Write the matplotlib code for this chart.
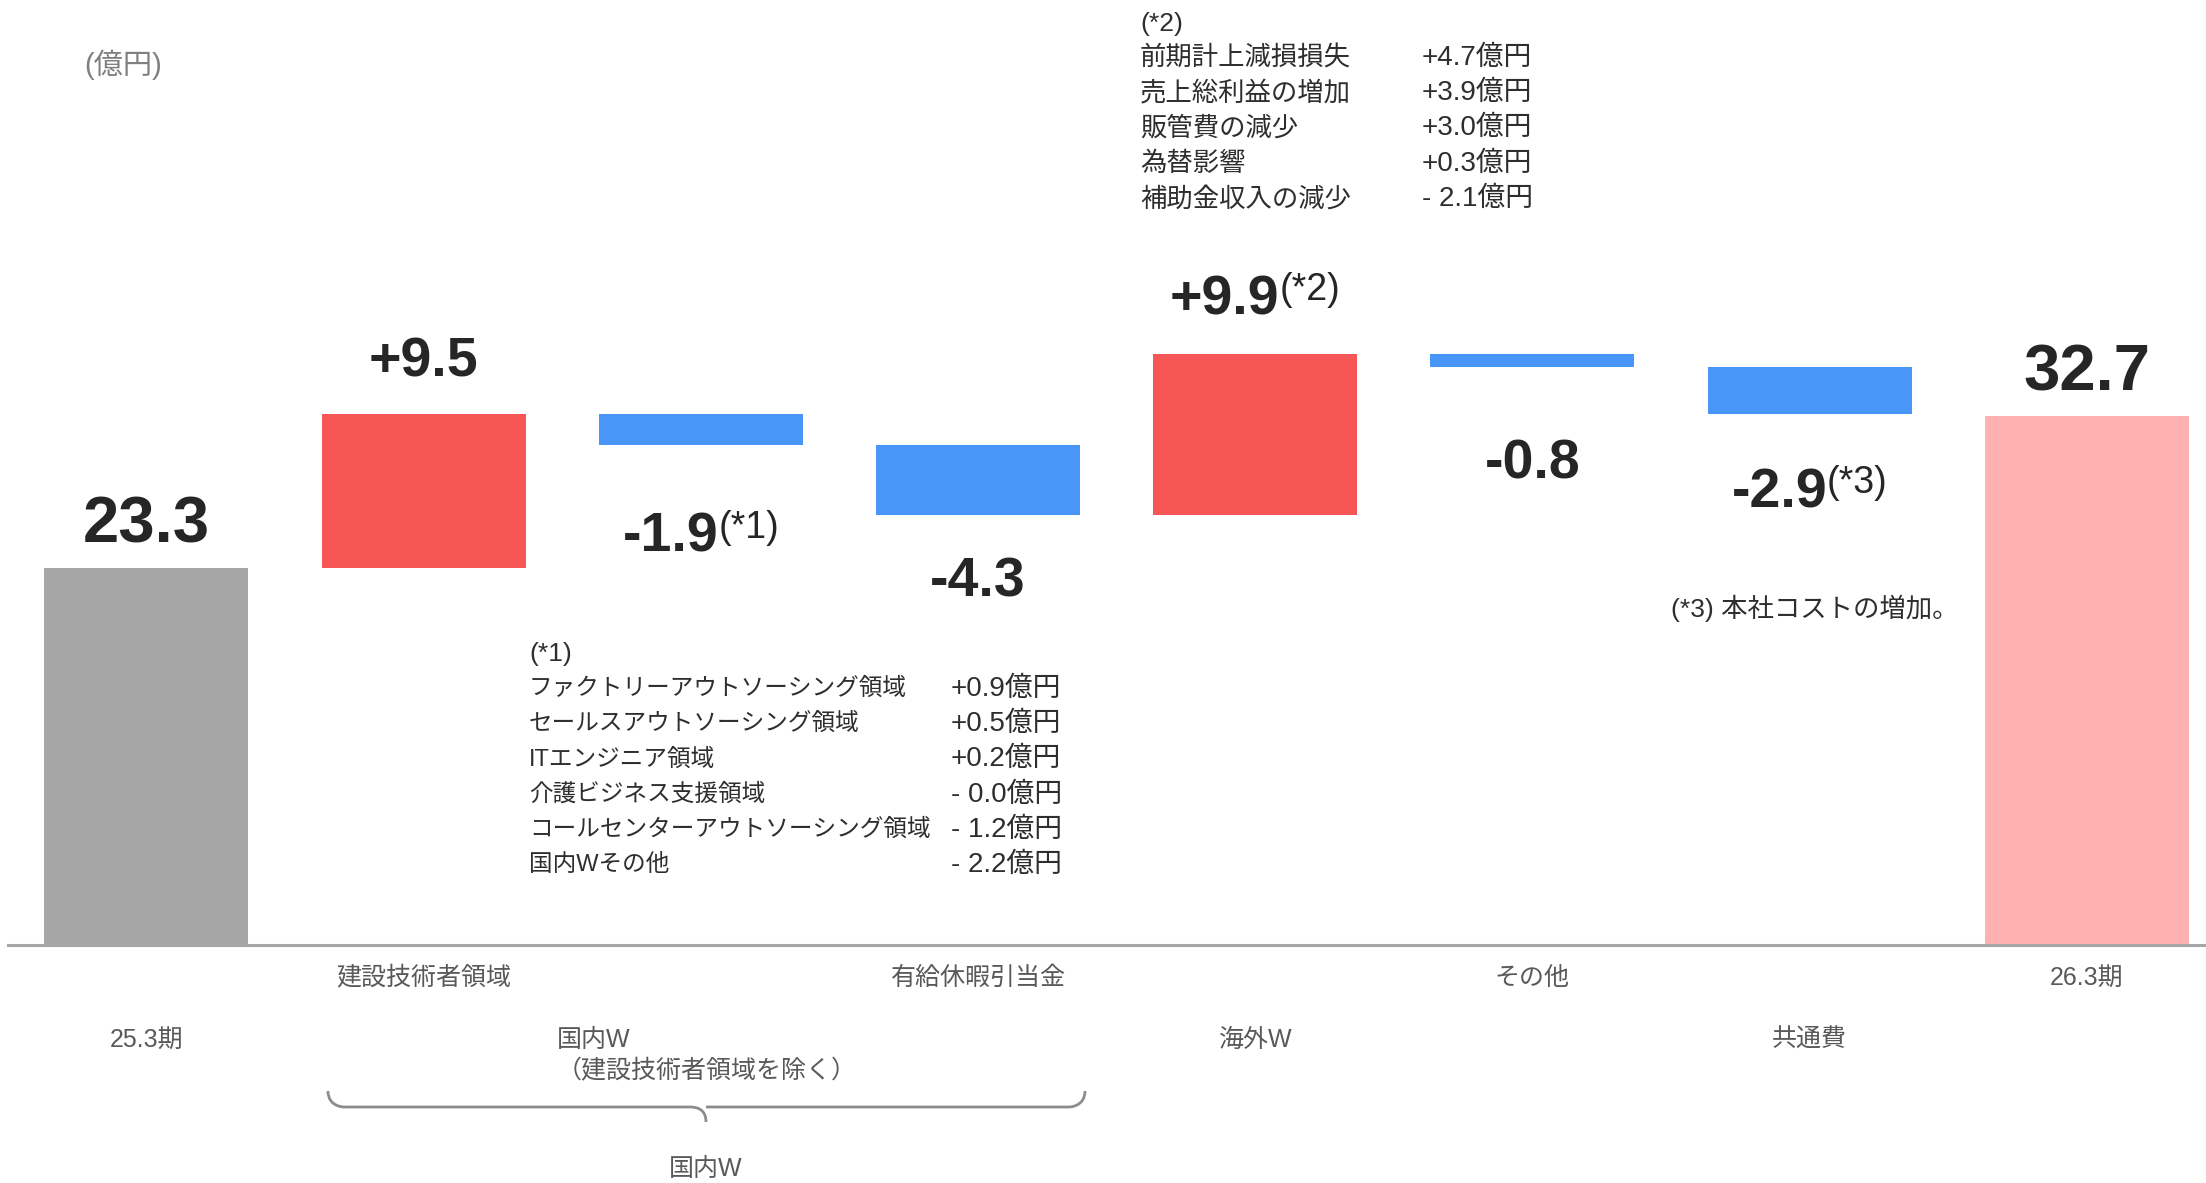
import numpy as np
import matplotlib
matplotlib.use('Agg')
import matplotlib.pyplot as plt
from matplotlib.path import Path
from matplotlib.patches import PathPatch

plt.rcParams['font.family'] = ['Liberation Sans', 'Noto Sans CJK JP']
NARROW = ['Liberation Sans Narrow', 'Liberation Sans']

# 営業利益の増減（億円）
start_label = '25.3期'
end_label = '26.3期'
start_value = 23.3
end_value = 32.7
step_labels = ['建設技術者領域', '国内W\n（建設技術者領域を除く）', '有給休暇引当金',
               '海外W', 'その他', '共通費']
step_values = [9.5, -1.9, -4.3, 9.9, -0.8, -2.9]
step_notes = ['', '(*1)', '', '(*2)', '', '(*3)']

note1_items = ['ファクトリーアウトソーシング領域', 'セールスアウトソーシング領域', 'ITエンジニア領域',
               '介護ビジネス支援領域', 'コールセンターアウトソーシング領域', '国内Wその他']
note1_values = [0.9, 0.5, 0.2, -0.0, -1.2, -2.2]
note2_items = ['前期計上減損損失', '売上総利益の増加', '販管費の減少', '為替影響', '補助金収入の減少']
note2_values = [4.7, 3.9, 3.0, 0.3, -2.1]
note3_text = '(*3) 本社コストの増加。'
group_label = '国内W'
unit_label = '(億円)'

W, H = 2206, 1183
GRAY, RED, BLUE, PINK = '#A6A6A6', '#F75656', '#4896F8', '#FFB1B1'
DARK = '#262626'
LABEL = '#595959'
NOTE = '#2E2E2E'

fig = plt.figure(figsize=(W / 100, H / 100), dpi=100)
ax = fig.add_axes([0, 0, 1, 1])
ax.axis('off')
ax.set_xlim(-0.528, 7.43)
ax.set_ylim(-14.71, 58.4)


def fxy(px, py):
    # pixel position (from top-left) -> figure fraction
    return px / W, 1 - py / H


# waterfall geometry
n = len(step_values) + 2
x = np.arange(n)
levels = start_value + np.concatenate([[0], np.cumsum(step_values)])
bottoms = [0] + list(np.minimum(levels[:-1], levels[1:])) + [0]
heights = [start_value] + [abs(v) for v in step_values] + [end_value]
colors = [GRAY] + [RED if v > 0 else BLUE for v in step_values] + [PINK]
ax.bar(x, heights, bottom=bottoms, width=0.736, color=colors, zorder=2)
ax.axhline(0, xmin=8 / W, color='#A6A6A6', lw=2.2, zorder=3)

# value labels (baseline offset from the bar edge, in pixels)
texts = [f'{start_value:.1f}'] + [f'{v:+.1f}' for v in step_values] + [f'{end_value:.1f}']
notes = [''] + step_notes + ['']
is_total = [True] + [False] * len(step_values) + [True]
downward = [False] + [v < 0 for v in step_values] + [False]
base_off = [25, 38, -107, -82, 40, -111, -93, 25]
sup_gap = [0, 13, 0, 2, 0, 3, 0, 0]
SUP_SIZE = 27

renderer = fig.canvas.get_renderer()
for i in range(n):
    size = 47 if is_total[i] else 40
    y0 = bottoms[i] if downward[i] else bottoms[i] + heights[i]
    sup_w = 0
    if notes[i]:
        probe = ax.text(0, 0, notes[i], fontsize=SUP_SIZE, family=NARROW)
        sup_w = probe.get_window_extent(renderer).width + sup_gap[i]
        probe.remove()
    num = ax.annotate(texts[i], xy=(x[i], y0), xytext=(-sup_w / 2, base_off[i]),
                      textcoords='offset pixels', ha='center', va='baseline',
                      fontsize=size, fontweight='bold', family=NARROW, color=DARK)
    if notes[i]:
        ax.annotate(notes[i], xy=(1, 1), xycoords=num, xytext=(sup_gap[i], 2),
                    textcoords='offset pixels', ha='left', va='top',
                    fontsize=SUP_SIZE, family=NARROW, color=DARK)

# category labels under the axis
cat_labels = [start_label] + step_labels + [end_label]
row_y = [1040, 978, 1040, 978, 1040, 978, 1040, 978]
xt = ax.get_xaxis_transform()
for i, lab in enumerate(cat_labels):
    yy = 1 - row_y[i] / H
    if '\n' in lab:
        first, second = lab.split('\n')
        fig.text(*fxy(557, 1040), first, ha='left', va='center', fontsize=18, color=LABEL)
        fig.text(*fxy(557, 1071), second, ha='left', va='center', fontsize=18, color=LABEL)
    else:
        ax.text(x[i], yy, lab, transform=xt, ha='center', va='center', fontsize=18, color=LABEL)

# brace under the domestic segments
bx0, bx1, bxc = 328, 1085, 706
by0, by1, bytip = 1091, 1107, 1122
r = 16
pts = [(bx0, by0), (bx0, by1), (bx0 + r, by1), (bx0 + r, by1),
       (bxc - r, by1), (bxc, by1), (bxc, bytip),
       (bxc, by1), (bxc + r, by1), (bxc + r, by1),
       (bx1 - r, by1), (bx1 - r, by1), (bx1, by1), (bx1, by0)]
codes = [Path.MOVETO, Path.CURVE4, Path.CURVE4, Path.CURVE4,
         Path.LINETO, Path.CURVE3, Path.CURVE3,
         Path.MOVETO, Path.CURVE3, Path.CURVE3,
         Path.LINETO, Path.CURVE4, Path.CURVE4, Path.CURVE4]
brace = Path([fxy(*p) for p in pts], codes)
fig.patches.append(PathPatch(brace, transform=fig.transFigure, fill=False,
                             edgecolor='#8C8C8C', lw=2))
fig.text(*fxy(706, 1169), group_label, ha='center', va='center', fontsize=18, color=LABEL)

# unit
fig.text(*fxy(84, 65), unit_label, ha='left', va='center', fontsize=21, color='#808080')


def fmt(v):
    return f"{'- ' if np.signbit(v) else '+'}{abs(v):.1f}億円"


# footnote (*1)
fig.text(*fxy(529, 654), '(*1)', ha='left', va='center', fontsize=19, color=NOTE)
for k, (name, v) in enumerate(zip(note1_items, note1_values)):
    yy = 689 + 35.2 * k
    fig.text(*fxy(529, yy), name, ha='left', va='center', fontsize=17, color=NOTE)
    fig.text(*fxy(951, yy), fmt(v), ha='left', va='center', fontsize=20, color=NOTE)

# footnote (*2)
fig.text(*fxy(1140, 24), '(*2)', ha='left', va='center', fontsize=19, color=NOTE)
for k, (name, v) in enumerate(zip(note2_items, note2_values)):
    yy = 58 + 35.2 * k
    fig.text(*fxy(1140, yy), name, ha='left', va='center', fontsize=19, color=NOTE)
    fig.text(*fxy(1422, yy), fmt(v), ha='left', va='center', fontsize=20, color=NOTE)

# footnote (*3)
fig.text(*fxy(1671, 608), note3_text, ha='left', va='center', fontsize=19, color=NOTE)

fig.savefig('out.png', dpi=100, facecolor='white')
